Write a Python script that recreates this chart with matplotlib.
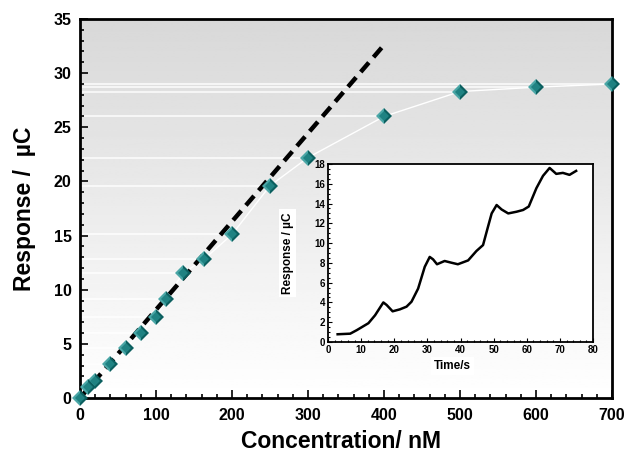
import matplotlib.pyplot as plt
import numpy as np
from matplotlib.ticker import MultipleLocator

plt.rcParams['font.family'] = ['Liberation Sans', 'DejaVu Sans']
plt.rcParams['font.weight'] = 'bold'

# dados da curva de calibração
conc = [0, 10, 20, 40, 60, 80, 100, 113, 135, 163, 200, 250, 300, 400, 500, 600, 700]
resp = [0, 1.0, 1.6, 3.1, 4.6, 6.0, 7.5, 9.1, 11.5, 12.8, 15.1, 19.6, 22.2, 26.0, 28.3, 28.7, 29.0]

# reta da região linear
lin_x = [0, 400]
lin_y = [0, 32.6]

# dados do gráfico interno (resposta vs tempo)
tempo = [2.9, 6.7, 8.7, 12.2, 14.2, 16.7, 17.7, 19.5, 21.7, 23.7, 25.2, 27.2, 29.2,
         30.7, 31.7, 32.9, 35.2, 37.2, 39.2, 42.3, 44.8, 46.8, 48.3, 49.4, 50.9,
         52.4, 54.4, 56.9, 58.9, 60.6, 62.9, 64.9, 66.9, 68.9, 70.9, 72.9, 74.9]
resp_t = [0.78, 0.84, 1.2, 1.9, 2.7, 4.0, 3.74, 3.1, 3.3, 3.57, 4.07, 5.4, 7.6,
          8.6, 8.36, 7.86, 8.19, 8.02, 7.86, 8.25, 9.2, 9.8, 11.66, 13.0, 13.85,
          13.4, 13.0, 13.17, 13.35, 13.7, 15.55, 16.8, 17.6, 17.0, 17.1, 16.9, 17.3]

fig = plt.figure(figsize=(6.29, 4.55), dpi=100)
ax = fig.add_axes([0.1272, 0.1253, 0.8458, 0.833])

# fundo em degradê
grad = np.linspace(0, 1, 256).reshape(-1, 1)
ax.imshow(grad, extent=[0, 1, 0, 1], transform=ax.transAxes, aspect='auto',
          cmap='gray', vmin=-5.5, vmax=1, origin='upper', zorder=0)

for x, y in zip(conc, resp):
    ax.plot([0, x], [y, y], color='white', lw=1.2, alpha=0.85, zorder=1)
ax.plot(conc, resp, color='white', lw=1, zorder=2)
ax.plot(lin_x, lin_y, color='black', lw=3.2, dashes=(2.8, 1.6), zorder=3)
ax.plot(conc, resp, 'D', ms=8.5, fillstyle='left', markerfacecolor='#4aa6a6',
        markerfacecoloralt='#0b5f5f', markeredgewidth=0, zorder=4, clip_on=False)
ax.plot(conc, resp, 'D', ms=5, color='#1f8282', markeredgewidth=0, zorder=5, clip_on=False)

ax.set_xlim(0, 700)
ax.set_ylim(0, 35)
ax.xaxis.set_major_locator(MultipleLocator(100))
ax.xaxis.set_minor_locator(MultipleLocator(20))
ax.yaxis.set_major_locator(MultipleLocator(5))
ax.yaxis.set_minor_locator(MultipleLocator(1))
ax.tick_params(which='both', direction='in', width=1.2, labelsize=11.5)
ax.tick_params(axis='x', pad=7)
ax.tick_params(axis='y', pad=6)
ax.tick_params(which='major', length=6)
ax.tick_params(which='minor', length=3)
for s in ax.spines.values():
    s.set_linewidth(2)

ax.set_xlabel('Concentration/ nM', fontsize=16.5, fontweight='bold')
ax.set_ylabel('Response /  µC', fontsize=16.5, fontweight='bold')
ax.xaxis.set_label_coords(0.49, -0.085)
ax.yaxis.set_label_coords(-0.083, 0.5)

# gráfico interno
axi = fig.add_axes([0.5215, 0.2484, 0.4213, 0.3912])
axi.plot(tempo, resp_t, color='black', lw=1.8)
axi.set_xlim(0, 80)
axi.set_ylim(0, 18)
axi.xaxis.set_major_locator(MultipleLocator(10))
axi.xaxis.set_minor_locator(MultipleLocator(2))
axi.yaxis.set_major_locator(MultipleLocator(2))
axi.yaxis.set_minor_locator(MultipleLocator(0.5))
axi.tick_params(which='both', direction='in', labelsize=7, pad=2, width=0.8)
axi.tick_params(which='major', length=3)
axi.tick_params(which='minor', length=1.5)
for s in axi.spines.values():
    s.set_linewidth(1.3)
axi.set_xlabel('Time/s', fontsize=8.5, fontweight='bold',
               bbox=dict(facecolor='white', edgecolor='none', pad=2))
axi.set_ylabel('Response / µC', fontsize=8.5, fontweight='bold',
               bbox=dict(facecolor='white', edgecolor='none', pad=2))
axi.xaxis.set_label_coords(0.47, -0.1)
axi.yaxis.set_label_coords(-0.13, 0.5)

plt.savefig('out.png', dpi=100)
